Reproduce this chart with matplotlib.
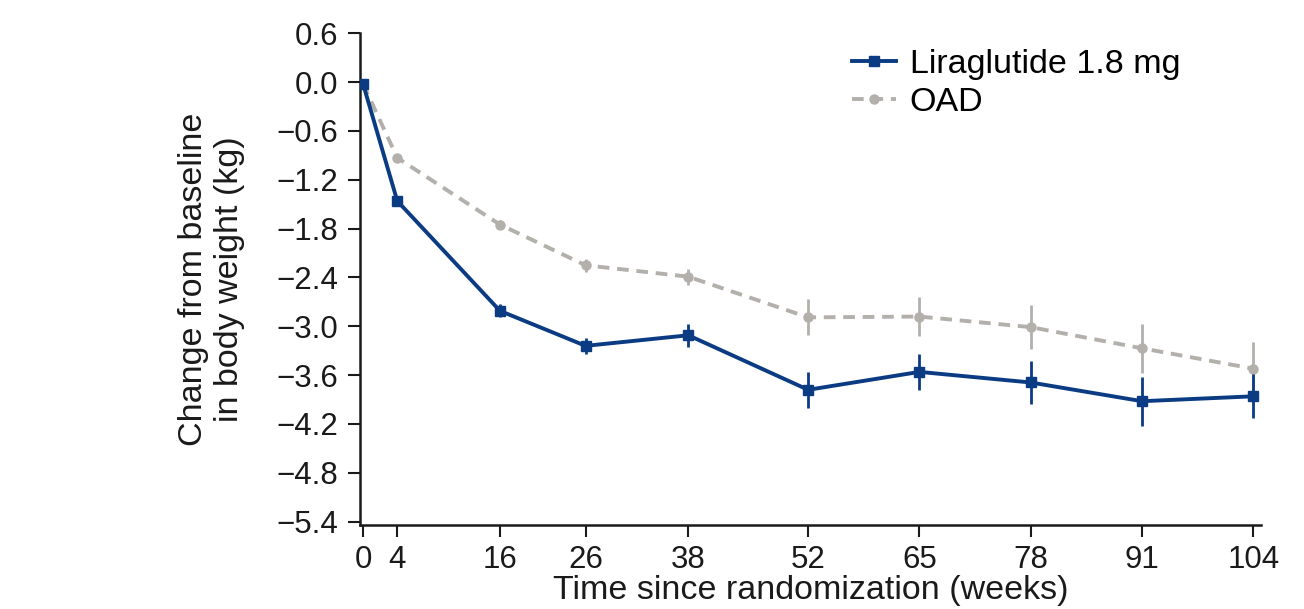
# Change in body weight over time, liraglutide vs OAD
import matplotlib.pyplot as plt

plt.rcParams['font.family'] = ['Liberation Sans', 'DejaVu Sans']

weeks = [0, 4, 16, 26, 38, 52, 65, 78, 91, 104]

# Liraglutide 1.8 mg
lira_mean = [-0.02, -1.46, -2.81, -3.24, -3.11, -3.78, -3.56, -3.69, -3.92, -3.86]
lira_err = [0.02, 0.06, 0.08, 0.10, 0.14, 0.22, 0.22, 0.26, 0.30, 0.27]

# OAD
oad_mean = [-0.02, -0.93, -1.75, -2.25, -2.39, -2.89, -2.88, -3.01, -3.27, -3.52]
oad_err = [0.02, 0.04, 0.06, 0.08, 0.10, 0.22, 0.24, 0.27, 0.30, 0.33]

yticks = [0.6, 0.0, -0.6, -1.2, -1.8, -2.4, -3.0, -3.6, -4.2, -4.8, -5.4]

blue = '#0b3b82'
grey = '#b3afab'
ink = '#1a1a1a'

fig = plt.figure(figsize=(13.04, 6.09), dpi=100)
ax = fig.add_axes([0.2761, 0.1374, 0.967 - 0.2761, 0.9453 - 0.1374])

ax.errorbar(weeks, oad_mean, yerr=oad_err, color=grey, ecolor=grey,
            linewidth=2.8, dashes=(3, 2), marker='o', markersize=6.5,
            elinewidth=2, capsize=0, label='OAD', zorder=2)
ax.errorbar(weeks, lira_mean, yerr=lira_err, color=blue, ecolor=blue,
            linewidth=2.8, marker='s', markersize=6.5,
            elinewidth=2, capsize=0, label='Liraglutide 1.8 mg', zorder=3)

ax.set_xlim(-0.35, 104.9)
ax.set_ylim(-5.445, 0.6)
ax.set_xticks(weeks)
ax.set_yticks(yticks)
ax.set_yticklabels(['%.1f' % v if v >= 0 else '\u2212%.1f' % -v for v in yticks])

for s in ['top', 'right']:
    ax.spines[s].set_visible(False)
for s in ['left', 'bottom']:
    ax.spines[s].set_linewidth(1.8)
    ax.spines[s].set_color(ink)

ax.tick_params(direction='out', length=8.5, width=1.5, labelsize=22.5, colors=ink)
ax.tick_params(axis='y', pad=7)
ax.tick_params(axis='x', pad=5.5)

ax.set_xlabel('Time since randomization (weeks)', fontsize=24.5, labelpad=0,
              color=ink)
ax.set_ylabel('Change from baseline\nin body weight (kg)', fontsize=24.5,
              labelpad=23, color=ink, linespacing=1.2)

# legend without errorbar ticks in the handles
h, l = ax.get_legend_handles_labels()
h = [hh[0] for hh in h]
ax.legend(h[::-1], l[::-1], loc='upper left', bbox_to_anchor=(0.546, 0.968),
          frameon=False, fontsize=24.5, handlelength=1.3, handletextpad=0.4,
          labelspacing=0.2, borderpad=0, borderaxespad=0)

fig.savefig('out.png', dpi=100)
